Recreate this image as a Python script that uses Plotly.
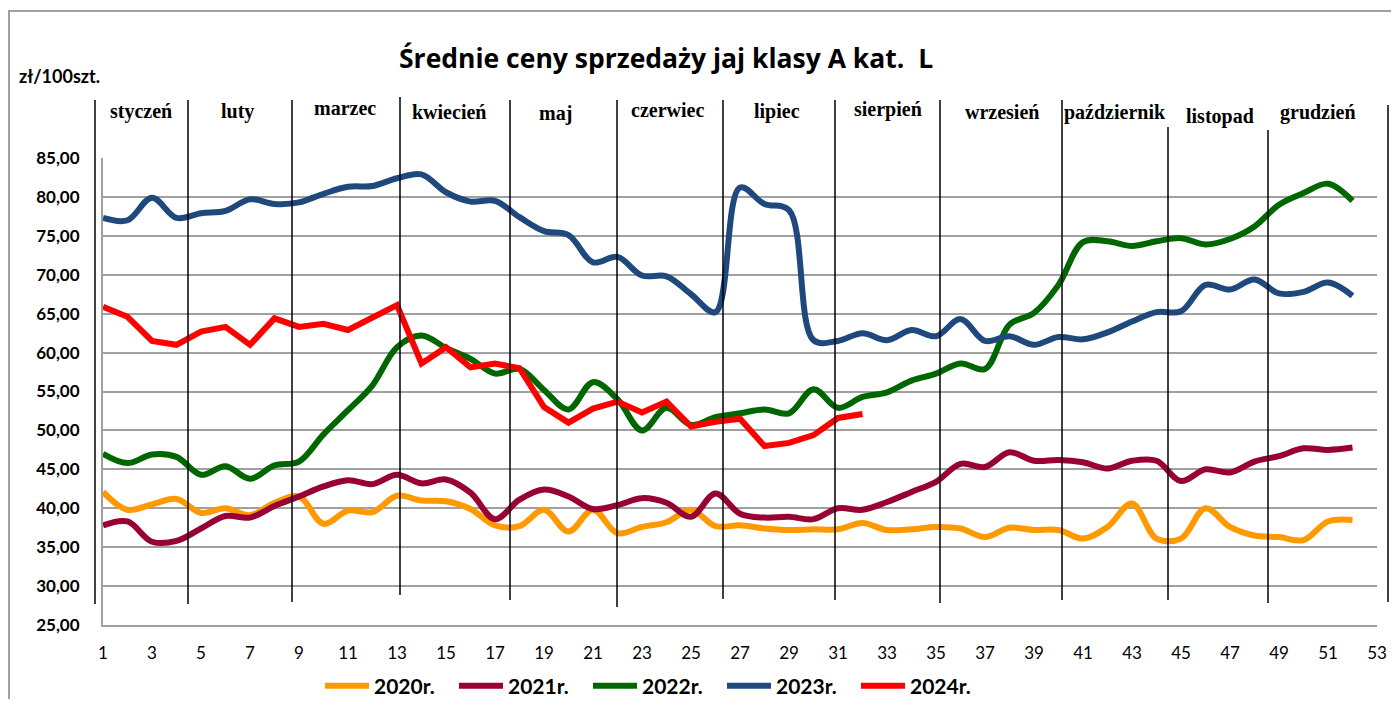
import plotly.graph_objects as go

weeks = list(range(1, 53))
weeks_2024 = list(range(1, 33))

y2020 = [42.1, 39.8, 40.5, 41.2, 39.4, 40.0, 39.1, 40.7, 41.5, 38.0, 39.7, 39.5, 41.6, 41.0, 40.9, 39.9,
         37.8, 37.7, 39.8, 37.0, 39.8, 36.8, 37.6, 38.2, 39.8, 37.7, 37.8, 37.4, 37.2, 37.3, 37.3, 38.1,
         37.2, 37.3, 37.6, 37.4, 36.3, 37.5, 37.2, 37.2, 36.1, 37.6, 40.6, 36.1, 36.1, 40.0, 37.6, 36.5,
         36.3, 35.9, 38.3, 38.5]
y2021 = [37.8, 38.3, 35.7, 35.8, 37.4, 39.0, 38.8, 40.3, 41.5, 42.8, 43.6, 43.1, 44.3, 43.2, 43.7, 42.0,
         38.6, 41.1, 42.4, 41.5, 39.9, 40.4, 41.3, 40.7, 38.9, 41.9, 39.3, 38.8, 38.9, 38.6, 40.0, 39.8,
         40.8, 42.1, 43.4, 45.7, 45.3, 47.2, 46.1, 46.2, 45.9, 45.1, 46.1, 46.1, 43.5, 45.0, 44.6, 46.0,
         46.7, 47.7, 47.5, 47.8]
y2022 = [47.0, 45.8, 46.9, 46.6, 44.3, 45.4, 43.8, 45.5, 46.0, 49.5, 52.6, 55.8, 60.7, 62.2, 60.6, 59.2,
         57.3, 57.9, 55.2, 52.7, 56.2, 54.0, 50.0, 52.9, 50.7, 51.7, 52.2, 52.7, 52.2, 55.3, 52.9, 54.3,
         54.9, 56.4, 57.3, 58.6, 57.9, 63.6, 65.1, 68.7, 74.2, 74.3, 73.7, 74.3, 74.7, 73.9, 74.6, 76.2,
         79.0, 80.5, 81.7, 79.5]
y2023 = [77.3, 77.0, 79.9, 77.3, 77.9, 78.2, 79.7, 79.1, 79.3, 80.4, 81.3, 81.4, 82.4, 82.9, 80.6, 79.4,
         79.5, 77.4, 75.6, 75.1, 71.6, 72.3, 69.9, 69.8, 67.5, 65.2, 81.2, 79.1, 78.3, 61.6, 61.5, 62.5,
         61.6, 62.9, 62.1, 64.3, 61.5, 62.1, 61.0, 62.0, 61.7, 62.6, 64.0, 65.2, 65.3, 68.7, 68.1, 69.4,
         67.6, 67.8, 69.0, 67.3]
y2024 = [65.9, 64.6, 61.5, 61.0, 62.7, 63.3, 61.0, 64.4, 63.3, 63.7, 62.9, 64.6, 66.1, 58.6, 60.7, 58.1,
         58.6, 58.0, 53.0, 51.0, 52.8, 53.7, 52.3, 53.7, 50.5, 51.1, 51.5, 48.0, 48.4, 49.4, 51.6, 52.1]

months = ["styczeń", "luty", "marzec", "kwiecień", "maj", "czerwiec", "lipiec", "sierpień",
          "wrzesień", "październik", "listopad", "grudzień"]
y_ticks = [25, 30, 35, 40, 45, 50, 55, 60, 65, 70, 75, 80, 85]
y_tick_text = ["25,00", "30,00", "35,00", "40,00", "45,00", "50,00", "55,00", "60,00", "65,00",
               "70,00", "75,00", "80,00", "85,00"]

# page geometry (screen pixels); the page body has an 8px margin
OFF = 8
FW, FH = 1399 - 2 * OFF, 707 - 2 * OFF
L, R, T, B = 103, 1377, 158, 625
W, H = R - L, B - T
def px(x):
    return (x - L) / W
def py(y):
    return (B - y) / H

fig = go.Figure()
series = [
    ("2020r.", weeks, y2020, "#FF9900", "spline"),
    ("2021r.", weeks, y2021, "#990033", "spline"),
    ("2022r.", weeks, y2022, "#006600", "spline"),
    ("2023r.", weeks, y2023, "#1F497D", "spline"),
    ("2024r.", weeks_2024, y2024, "#FF0000", "linear"),
]
for name, xs, ys, col, shape in series:
    fig.add_trace(go.Scatter(x=xs, y=ys, name=name, mode="lines",
                             line=dict(color=col, width=6, shape=shape, smoothing=1.0)))

shapes = []
sep = [(95, 100, 604), (188, 100, 604), (292, 100, 602), (400, 97, 595), (510, 100, 600),
       (617, 100, 607), (723, 100, 599), (835, 100, 600), (940, 100, 603), (1062, 100, 600),
       (1168, 127, 600), (1268, 130, 603), (1388, 105, 602)]
for x, t, b in sep:
    shapes.append(dict(type="line", xref="paper", yref="paper", x0=px(x), x1=px(x),
                       y0=py(b), y1=py(t), line=dict(color="black", width=1.5)))
shapes.append(dict(type="rect", xref="paper", yref="paper", x0=px(9), x1=px(1420),
                   y0=py(730), y1=py(11), line=dict(color="#A0A0A0", width=2)))

annotations = []
month_pos = [(141, 112), (237, 112), (345, 108), (449, 112), (555, 114), (667, 110), (777, 112),
             (888, 109), (1002, 112), (1115, 113), (1220, 116), (1318, 113)]
for m, (x, y) in zip(months, month_pos):
    annotations.append(dict(text="<b>" + m + "</b>", x=px(x), y=py(y), xref="paper", yref="paper",
                            showarrow=False, xanchor="center", yanchor="middle",
                            font=dict(family="Liberation Serif", size=20, color="black")))
annotations.append(dict(text="<b>Średnie ceny sprzedaży jaj klasy A kat.  L</b>", x=px(666), y=py(58),
                        xref="paper", yref="paper", showarrow=False, xanchor="center",
                        yanchor="middle", font=dict(family="Open Sans", size=26.5, color="black")))
annotations.append(dict(text="<b>zł/100szt.</b>", x=px(17), y=py(76), xref="paper", yref="paper",
                        showarrow=False, xanchor="left", yanchor="middle",
                        font=dict(family="Lato", size=18, color="black")))

fig.update_layout(
    width=FW, height=FH,
    margin=dict(l=L - OFF, r=OFF + FW - R, t=T - OFF, b=OFF + FH - B, autoexpand=False),
    paper_bgcolor="white", plot_bgcolor="white",
    shapes=shapes, annotations=annotations,
    showlegend=True,
    legend=dict(orientation="h", x=px(320), y=py(686), xanchor="left", yanchor="middle",
                entrywidth=75, entrywidthmode="pixels", itemwidth=44,
                font=dict(family="Lato", size=21, color="black", weight="bold"),
                bgcolor="rgba(0,0,0,0)"),
    xaxis=dict(range=[1, 53], tickmode="array", tickvals=list(range(1, 54, 2)),
               showgrid=False, zeroline=False, showline=True, linecolor="#A0A0A0", linewidth=2,
               ticks="", ticklabelstandoff=12, automargin=False,
               tickfont=dict(family="Lato", size=17, color="black")),
    yaxis=dict(range=[25, 85], tickmode="array", tickvals=y_ticks, ticktext=y_tick_text,
               showgrid=True, gridcolor="#A0A0A0", gridwidth=1.5, zeroline=False, automargin=False,
               showline=True, linecolor="#A0A0A0", linewidth=2, ticks="", ticklabelstandoff=18,
               tickfont=dict(family="Lato", size=17, color="black", weight="bold")),
)
fig.write_html("out.html")
